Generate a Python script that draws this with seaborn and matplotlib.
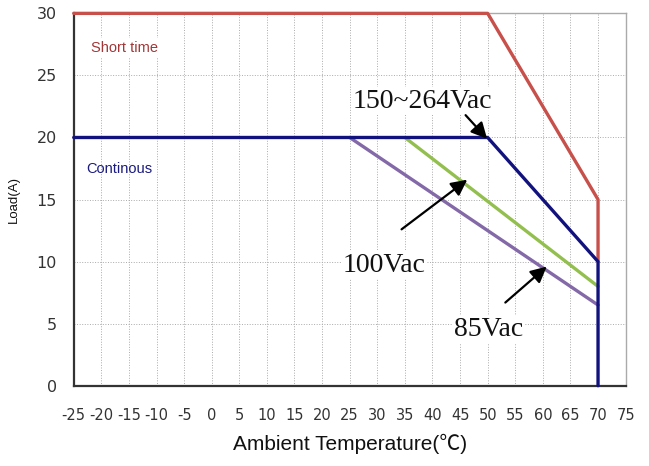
import matplotlib
matplotlib.use("Agg")
import matplotlib.pyplot as plt
import seaborn as sns
import pandas as pd

# derating curves: ambient temperature (C) vs load (A)
temp_short = [-25, 50, 70, 70]
load_short = [30, 30, 15, 10]
temp_high = [-25, 50, 70, 70]
load_high = [20, 20, 10, 0]
temp_100 = [35, 70]
load_100 = [20, 8]
temp_85 = [25, 70]
load_85 = [20, 6.5]

x_ticks = list(range(-25, 80, 5))
y_ticks = list(range(0, 35, 5))

sns.set_theme(style="white")
plt.rcParams['font.family'] = ['DejaVu Sans', 'Noto Sans CJK SC']

fig = plt.figure(figsize=(6.49, 4.66), dpi=100)
ax = fig.add_axes([0.1136, 0.1723, 0.8504, 0.799])


def draw(temps, loads, color):
    df = pd.DataFrame({"temp": temps, "load": loads})
    sns.lineplot(data=df, x="temp", y="load", sort=False, estimator=None,
                 color=color, linewidth=2.4, ax=ax, clip_on=False, zorder=3)


draw(temp_85, load_85, "#8469a8")
draw(temp_100, load_100, "#93bf4f")
draw(temp_short, load_short, "#c8504b")
draw(temp_high, load_high, "#12127e")

ax.set_xlim(-25, 75)
ax.set_ylim(0, 30)
ax.set_xticks(x_ticks)
ax.set_yticks(y_ticks)
ax.set_xticklabels([str(t) for t in x_ticks], fontsize=10.5, color="#333333")
ax.set_yticklabels([str(t) for t in y_ticks], fontsize=11.5, color="#333333")
ax.tick_params(axis="x", direction="in", length=4, width=1.2, color="#333333", pad=16)
ax.tick_params(axis="y", length=0, pad=12)

ax.grid(True, linestyle=":", linewidth=0.7, color="#aaaaaa")
for side in ["left", "bottom"]:
    ax.spines[side].set_color("#333333")
    ax.spines[side].set_linewidth(1.6)
for side in ["top", "right"]:
    ax.spines[side].set_color("#aaaaaa")
    ax.spines[side].set_linewidth(1.0)

ax.set_xlabel("Ambient Temperature(℃)", fontsize=15, labelpad=8, color="#111111",
              family=["Liberation Sans", "Noto Sans CJK SC"])
ax.set_ylabel("Load(A)", fontsize=9.5, labelpad=12, color="#111111",
              family="Liberation Sans")

ax.text(-21.8, 27.2, "Short time", fontsize=10.5, color="#a33636",
        family="Liberation Sans", va="center",
        bbox=dict(facecolor="white", edgecolor="none", pad=2))
ax.text(-22.7, 17.5, "Continous", fontsize=10.5, color="#1a1a80",
        family="Liberation Sans", va="center")

serif = dict(fontsize=20, family="Liberation Serif", color="#111111", va="baseline",
             bbox=dict(facecolor="white", edgecolor="none", pad=1))
ax.text(25.6, 22.4, "150~264Vac", **serif)
ax.text(23.8, 9.2, "100Vac", **serif)
ax.text(43.9, 4.0, "85Vac", **serif)

arrow = dict(arrowstyle="-|>,head_length=0.8,head_width=0.4", color="black", lw=1.6,
             shrinkA=0, shrinkB=0)
ax.annotate("", xy=(49.9, 19.9), xytext=(46.0, 21.8), arrowprops=arrow, zorder=5)
ax.annotate("", xy=(46.3, 16.6), xytext=(34.4, 12.6), arrowprops=arrow, zorder=5)
ax.annotate("", xy=(60.7, 9.6), xytext=(53.2, 6.7), arrowprops=arrow, zorder=5)

fig.savefig("out.png", dpi=100)
